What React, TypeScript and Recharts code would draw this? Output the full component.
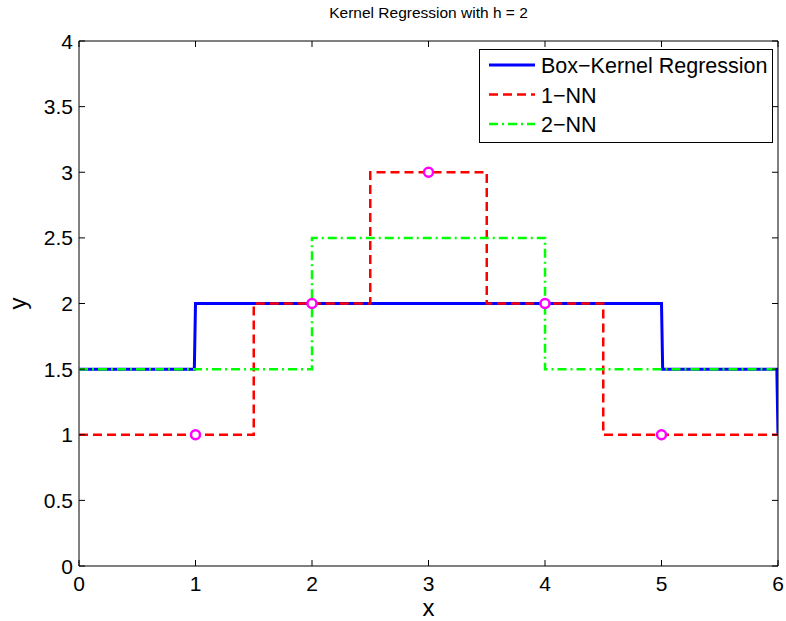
import React from "react";
import {
  ComposedChart,
  Line,
  Scatter,
  XAxis,
  YAxis,
  ReferenceArea,
} from "recharts";

// plot box in page pixels
const L = 79;
const R = 778;
const T = 41;
const B = 566;
const W = 786;
const H = 621;
const FONT = '"Liberation Sans", Arial, Helvetica, sans-serif';
const Y_AXIS_W = 40;
const X_AXIS_H = 30;

const xTicks = [0, 1, 2, 3, 4, 5, 6];
const yTicks = [0, 0.5, 1, 1.5, 2, 2.5, 3, 3.5, 4];

const boxX = [0, 0.99, 1, 5, 5.01, 5.99, 6];
const boxY = [1.5, 1.5, 2, 2, 1.5, 1.5, 1];

const nn1X = [0, 1.5, 1.5, 2.5, 2.5, 3.5, 3.5, 4.5, 4.5, 6];
const nn1Y = [1, 1, 2, 2, 3, 3, 2, 2, 1, 1];

const nn2X = [0, 2, 2, 4, 4, 6];
const nn2Y = [1.5, 1.5, 2.5, 2.5, 1.5, 1.5];

const ptX = [1, 2, 3, 4, 5];
const ptY = [1, 2, 3, 2, 1];

const zip = (xs: number[], ys: number[]) => xs.map((x, i) => ({ x, y: ys[i] }));

const boxData = zip(boxX, boxY);
const nn1Data = zip(nn1X, nn1Y);
const nn2Data = zip(nn2X, nn2Y);
const ptData = zip(ptX, ptY);

const legendItems = [
  { name: "Box−Kernel Regression", color: "#0000ff", dash: undefined, width: 3 },
  { name: "1−NN", color: "#ff0000", dash: "9,5", width: 2.5 },
  { name: "2−NN", color: "#00ff00", dash: "9,4,2,4", width: 2.5 },
];
const legendRows = [65, 94.5, 124];

const XTick = (props: any) => {
  const { x, payload } = props;
  return (
    <g>
      <line x1={x} x2={x} y1={B} y2={B - 6} stroke="#000" strokeWidth={1} />
      <line x1={x} x2={x} y1={T} y2={T + 6} stroke="#000" strokeWidth={1} />
      <text x={x} y={B + 25} textAnchor="middle" fontSize={21} fontFamily={FONT} fill="#000">
        {payload.value}
      </text>
    </g>
  );
};

const YTick = (props: any) => {
  const { y, payload } = props;
  return (
    <g>
      <line x1={L} x2={L + 6} y1={y} y2={y} stroke="#000" strokeWidth={1} />
      <line x1={R} x2={R - 6} y1={y} y2={y} stroke="#000" strokeWidth={1} />
      <text x={L - 6} y={y + 7.5} textAnchor="end" fontSize={21} fontFamily={FONT} fill="#000">
        {payload.value}
      </text>
    </g>
  );
};

const Ring = (props: any) => {
  const { cx, cy } = props;
  return <circle cx={cx} cy={cy} r={4.5} fill="#fff" stroke="#ff00ff" strokeWidth={2.5} />;
};

export default function App() {
  return (
    <div style={{ position: "absolute", left: 0, top: 0, width: W, height: H, background: "#fff" }}>
      <ComposedChart
        width={W}
        height={H}
        margin={{ top: T, right: W - R, bottom: H - B - X_AXIS_H, left: L - Y_AXIS_W }}
      >
        <XAxis
          type="number"
          dataKey="x"
          domain={[0, 6]}
          ticks={xTicks}
          allowDataOverflow
          height={X_AXIS_H}
          axisLine={false}
          tickLine={false}
          tick={<XTick />}
          interval={0}
        />
        <YAxis
          type="number"
          dataKey="y"
          domain={[0, 4]}
          ticks={yTicks}
          allowDataOverflow
          width={Y_AXIS_W}
          axisLine={false}
          tickLine={false}
          tick={<YTick />}
          interval={0}
        />
        <ReferenceArea x1={0} x2={6} y1={0} y2={4} fill="none" stroke="#000" strokeWidth={1} strokeOpacity={1} />
        <Line data={boxData} dataKey="y" type="linear" stroke="#0000ff" strokeWidth={3} dot={false} isAnimationActive={false} />
        <Line data={nn1Data} dataKey="y" type="linear" stroke="#ff0000" strokeWidth={2.5} strokeDasharray="9,5" dot={false} isAnimationActive={false} />
        <Line data={nn2Data} dataKey="y" type="linear" stroke="#00ff00" strokeWidth={2.5} strokeDasharray="9,4,2,4" dot={false} isAnimationActive={false} />
        <Scatter data={ptData} dataKey="y" shape={<Ring />} isAnimationActive={false} />
      </ComposedChart>

      <svg width={W} height={H} style={{ position: "absolute", left: 0, top: 0, pointerEvents: "none" }}>
        <text x={(L + R) / 2} y={18} textAnchor="middle" fontSize={15.5} fontFamily={FONT} fill="#000">
          Kernel Regression with h = 2
        </text>
        <text x={(L + R) / 2} y={616} textAnchor="middle" fontSize={24} fontFamily={FONT} fill="#000">
          x
        </text>
        <text
          x={26}
          y={(T + B) / 2}
          textAnchor="middle"
          fontSize={24}
          fontFamily={FONT}
          fill="#000"
          transform={`rotate(-90 26 ${(T + B) / 2})`}
        >
          y
        </text>
        <g>
          <rect x={479.5} y={49.5} width={293} height={93} fill="#fff" stroke="#000" strokeWidth={1} />
          {legendItems.map((it, i) => {
            const cy = legendRows[i];
            return (
              <g key={it.name}>
                <line x1={489} x2={535} y1={cy} y2={cy} stroke={it.color} strokeWidth={it.width} strokeDasharray={it.dash} />
                <text x={541} y={cy + 8} fontSize={21.5} fontFamily={FONT} fill="#000">
                  {it.name}
                </text>
              </g>
            );
          })}
        </g>
      </svg>
    </div>
  );
}
